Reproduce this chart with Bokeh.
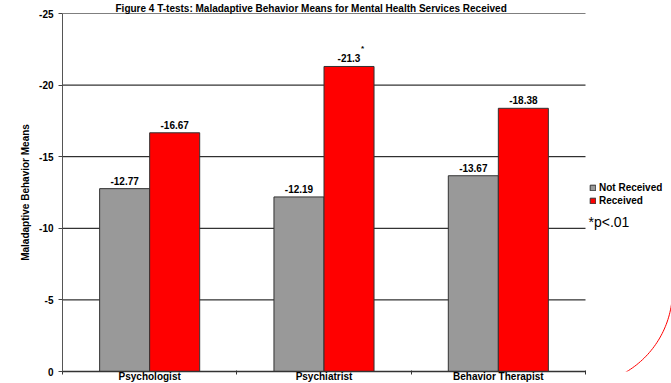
import numpy as np
from bokeh.plotting import figure
from bokeh.models import Range1d, FixedTicker, Legend, LegendItem, Label
from bokeh.core.properties import value
from bokeh.embed import file_html
from bokeh.resources import INLINE

# ---- data ----
categories = ["Psychologist", "Psychiatrist", "Behavior Therapist"]
not_received = [-12.77, -12.19, -13.67]
received = [-16.67, -21.3, -18.38]
significant = [False, True, False]
y_ticks = [0, -5, -10, -15, -20, -25]
series_names = ["Not Received", "Received"]
title_text = "Figure 4 T-tests: Maladaptive Behavior Means for Mental Health Services Received"
y_label = "Maladaptive Behavior Means"
note_text = "*p<.01"

FONT = "Liberation Sans"
GRAY = "#999999"
RED = "#ff0000"

n = len(categories)
bar_w = 0.287
centers = [i + 0.5 for i in range(n)]
x_gray = [c - bar_w / 2 for c in centers]
x_red = [c + bar_w / 2 for c in centers]

# plot area extends into the right margin so the legend / note / arc are visible
x_extra = 0.4933
p = figure(frame_width=609, frame_height=358,
           x_range=Range1d(0, n + x_extra), y_range=Range1d(0, -25),
           output_backend="svg", toolbar_location=None,
           min_border_left=62, min_border_right=0, min_border_top=13, min_border_bottom=12)
p.outline_line_color = None
p.background_fill_color = "white"
p.border_fill_color = "white"

# title
p.title.text = title_text
p.title.text_font = FONT
p.title.text_font_size = "10px"
p.title.text_font_style = "bold"
p.title.text_color = "black"
p.title.align = "left"
p.title.offset = 53
p.title.standoff = 0

# grid lines (only across the category area)
p.xgrid.visible = False
p.ygrid.visible = False
grid_vals = [t for t in y_ticks if t != 0]
p.segment(x0=[0] * len(grid_vals), x1=[n] * len(grid_vals), y0=grid_vals, y1=grid_vals,
          line_color="black", line_width=1)

# y axis
p.yaxis.ticker = FixedTicker(ticks=y_ticks)
p.yaxis.major_label_overrides = {t: str(t) for t in y_ticks}
p.yaxis.minor_tick_line_color = None
p.yaxis.major_tick_out = 4
p.yaxis.major_tick_in = 0
p.yaxis.major_tick_line_color = "#444444"
p.yaxis.axis_line_color = "#555555"
p.yaxis.major_label_text_font = FONT
p.yaxis.major_label_text_font_size = "10px"
p.yaxis.major_label_text_font_style = "bold"
p.yaxis.major_label_text_color = "black"
p.yaxis.major_label_standoff = 5
p.yaxis.axis_label = y_label
p.yaxis.axis_label_text_font = FONT
p.yaxis.axis_label_text_font_size = "10px"
p.yaxis.axis_label_text_font_style = "bold"
p.yaxis.axis_label_text_color = "black"
p.yaxis.axis_label_standoff = 5

# x axis
p.xaxis.ticker = FixedTicker(ticks=centers, minor_ticks=list(range(n + 1)))
p.xaxis.major_label_overrides = {c: name for c, name in zip(centers, categories)}
p.xaxis.bounds = (0, n)
p.xaxis.major_tick_out = 0
p.xaxis.major_tick_in = 0
p.xaxis.minor_tick_out = 3
p.xaxis.minor_tick_in = 1
p.xaxis.minor_tick_line_color = "#333333"
p.xaxis.axis_line_color = "#333333"
p.xaxis.axis_line_width = 1.5
p.xaxis.major_label_text_font = FONT
p.xaxis.major_label_text_font_size = "10px"
p.xaxis.major_label_text_font_style = "bold"
p.xaxis.major_label_text_color = "black"
p.xaxis.major_label_standoff = -4

# bars
r_gray = p.vbar(x=x_gray, width=bar_w, top=not_received, bottom=0,
                fill_color=GRAY, line_color="#333333", line_width=1)
r_red = p.vbar(x=x_red, width=bar_w, top=received, bottom=0,
               fill_color=RED, line_color="#333333", line_width=1)

# value labels
fmt = lambda v: f"{v:g}"
p.text(x=x_gray + x_red, y=not_received + received,
       text=[fmt(v) for v in not_received + received],
       text_align="center", text_baseline="bottom", y_offset=-4,
       text_font=value(FONT), text_font_size="10px", text_font_style="bold",
       text_color="black")
star_x = [x for x, s in zip(x_red, significant) if s]
star_y = [y for y, s in zip(received, significant) if s]
p.text(x=star_x, y=star_y, text=["*"] * len(star_x),
       text_align="left", text_baseline="bottom", x_offset=12, y_offset=-13,
       text_font=value(FONT), text_font_size="8px", text_font_style="bold",
       text_color="black")

# legend
legend = Legend(items=[LegendItem(label=series_names[0], renderers=[r_gray]),
                       LegendItem(label=series_names[1], renderers=[r_red])],
                location=(527, 165), orientation="vertical",
                glyph_width=7, glyph_height=7, label_height=10, label_standoff=3,
                label_text_font=FONT, label_text_font_size="10px",
                label_text_font_style="bold", label_text_color="black",
                padding=0, spacing=2, margin=0,
                border_line_color=None, background_fill_alpha=0)
p.add_layout(legend, "center")

# note
p.add_layout(Label(x=3.017, y=-10.47, text=note_text, text_font=FONT,
                   text_font_size="14px", text_color="black",
                   text_baseline="alphabetic"))

# decorative red arc (present in the source image)
cx, cy, rx, ry = 2.954, -5.66, 0.545, 6.63
ang = np.linspace(-5, 85, 60)
arc_x = list(cx + rx * np.cos(np.radians(ang)))
arc_y = list(cy + ry * np.sin(np.radians(ang)))
p.line(x=arc_x, y=arc_y, line_color=RED, line_width=1)

open("out.html", "w").write(file_html(p, INLINE))
